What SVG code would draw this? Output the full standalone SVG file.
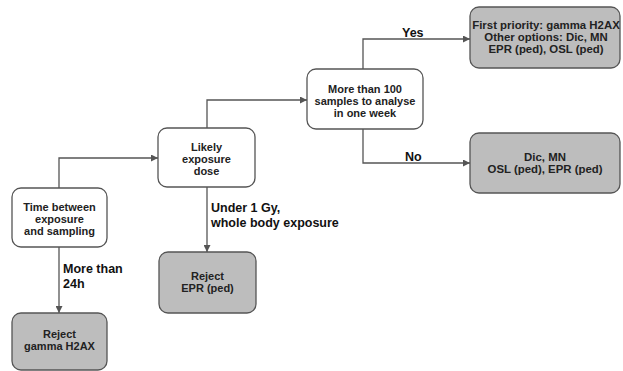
<svg xmlns="http://www.w3.org/2000/svg" width="623" height="371" viewBox="0 0 623 371">
<defs>
<marker id="arr" viewBox="0 0 10 10" refX="10" refY="5" markerWidth="7" markerHeight="7" markerUnits="userSpaceOnUse" orient="auto">
<path d="M0,0 L10,5 L0,10 z" fill="#555"/>
</marker>
<style>
.q{fill:#fff;stroke:#555;stroke-width:1.3}
.r{fill:#bdbdbd;stroke:#555;stroke-width:1.3}
.t{font-family:"Liberation Sans",Arial,sans-serif;font-weight:bold;font-size:11px;fill:#222;text-anchor:middle}
.l{font-family:"Liberation Sans",Arial,sans-serif;font-weight:bold;font-size:12.5px;fill:#111}
.c{fill:none;stroke:#555;stroke-width:1.3;marker-end:url(#arr)}
</style>
</defs>
<rect width="623" height="371" fill="#fff"/>
<g id="connectors">
<path class="c" d="M59,188 V158 H158"/>
<path class="c" d="M59,247 V313"/>
<path class="c" d="M207,128 V100 H307"/>
<path class="c" d="M207,187 V252"/>
<path class="c" d="M363,69 V39 H470"/>
<path class="c" d="M363,129 V163 H470"/>
<text class="l" x="63" y="273">More than</text>
<text class="l" x="63" y="288">24h</text>
<text class="l" x="211" y="212">Under 1 Gy,</text>
<text class="l" x="211" y="227">whole body exposure</text>
<text class="l" x="402" y="37">Yes</text>
<text class="l" x="405" y="161">No</text>
</g>
<g id="time">
<rect class="q" x="12" y="188" width="95" height="59" rx="9"/>
<text class="t" x="59.5" y="211">Time between</text>
<text class="t" x="59.5" y="223">exposure</text>
<text class="t" x="59.5" y="235">and sampling</text>
</g>
<g id="reject-gamma">
<rect class="r" x="12" y="313" width="95" height="57" rx="9"/>
<text class="t" x="59.5" y="338">Reject</text>
<text class="t" x="59.5" y="350">gamma H2AX</text>
</g>
<g id="dose">
<rect class="q" x="158" y="128" width="97" height="59" rx="9"/>
<text class="t" x="206.5" y="151">Likely</text>
<text class="t" x="206.5" y="163">exposure</text>
<text class="t" x="206.5" y="175">dose</text>
</g>
<g id="reject-epr">
<rect class="r" x="159" y="252" width="97" height="61" rx="9"/>
<text class="t" x="207.5" y="280">Reject</text>
<text class="t" x="207.5" y="292">EPR (ped)</text>
</g>
<g id="samples">
<rect class="q" x="307" y="69" width="116" height="60" rx="9"/>
<text class="t" x="365" y="93">More than 100</text>
<text class="t" x="365" y="105">samples to analyse</text>
<text class="t" x="365" y="117">in one week</text>
</g>
<g id="yes-result">
<rect class="r" x="470" y="7" width="150" height="61" rx="9"/>
<text class="t" x="546" y="29" style="font-size:11.4px">First priority: gamma H2AX</text>
<text class="t" x="546" y="41" style="font-size:11.4px">Other options: Dic, MN</text>
<text class="t" x="546" y="53" style="font-size:11.4px">EPR (ped), OSL (ped)</text>
</g>
<g id="no-result">
<rect class="r" x="470" y="133" width="150" height="60" rx="9"/>
<text class="t" x="545" y="161" style="font-size:11.4px">Dic, MN</text>
<text class="t" x="545" y="173" style="font-size:11.4px">OSL (ped), EPR (ped)</text>
</g>
</svg>
